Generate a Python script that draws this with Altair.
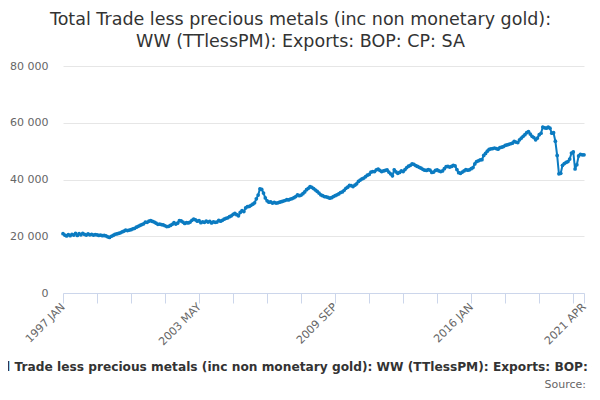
import altair as alt
import pandas as pd

TITLE_LINES = [
    "Total Trade less precious metals (inc non monetary gold):",
    "WW (TTlessPM): Exports: BOP: CP: SA",
]
SERIES_NAME = "Total Trade less precious metals (inc non monetary gold): WW (TTlessPM): Exports: BOP: CP: SA"
SOURCE_TEXT = "Source:"

START_YEAR = 1997
MONTH_NAMES = ["JAN", "FEB", "MAR", "APR", "MAY", "JUN",
               "JUL", "AUG", "SEP", "OCT", "NOV", "DEC"]

# Monthly values (£ million)
v1997 = [20900, 20400, 20100, 20600, 20200, 20700, 20400, 21000, 20300, 20900, 20500, 21000]
v1998 = [20700, 20400, 20800, 20500, 20700, 20400, 20600, 20500, 20300, 20400, 20200, 20300]
v1999 = [20100, 19800, 19600, 20000, 20300, 20700, 20800, 21000, 21200, 21500, 21800, 22200]
v2000 = [22000, 22200, 22300, 22600, 22800, 23200, 23500, 23800, 24100, 24400, 25000, 24900]
v2001 = [25300, 25500, 25200, 25000, 24600, 24200, 24300, 24100, 24000, 23700, 23400, 23500]
v2002 = [23800, 24200, 24800, 24300, 24600, 25500, 25400, 25000, 24500, 24800, 24700, 25000]
v2003 = [25600, 26000, 25800, 25300, 25500, 24800, 25100, 24900, 25300, 25000, 25200, 24700]
v2004 = [25100, 24900, 25000, 25600, 25300, 25600, 26000, 26300, 26500, 26900, 27200, 27700]
v2005 = [28100, 27600, 27200, 28400, 29000, 28700, 30000, 30400, 30500, 30900, 31300, 31800]
v2006 = [33200, 34500, 36700, 36500, 35200, 33500, 32500, 32000, 32100, 31700, 31900, 31700]
v2007 = [31800, 32000, 32200, 32400, 32600, 32900, 32800, 33100, 33300, 33600, 34000, 34600]
v2008 = [34300, 34500, 35000, 35600, 36400, 36900, 37500, 37200, 36800, 36300, 35800, 35200]
v2009 = [34600, 34300, 34000, 33900, 33700, 33400, 33600, 34000, 34300, 34600, 34900, 35400]
v2010 = [35600, 36200, 36900, 37300, 37900, 37800, 37500, 38000, 38500, 39300, 39800, 40200]
v2011 = [40500, 41000, 41500, 41800, 42600, 42800, 42800, 43400, 43700, 43200, 42800, 43000]
v2012 = [43200, 43400, 42600, 42000, 41300, 43400, 42700, 42200, 42500, 43000, 42800, 43500]
v2013 = [44200, 44700, 45000, 45500, 45300, 44900, 44600, 44300, 44000, 43600, 43300, 43200]
v2014 = [43500, 43300, 42500, 42600, 43200, 43400, 43000, 42800, 43000, 43800, 44500, 44600]
v2015 = [44400, 44600, 45000, 44800, 43500, 42400, 42200, 42600, 43000, 43500, 43300, 43400]
v2016 = [43800, 44200, 45500, 46300, 46600, 46900, 47000, 48500, 49200, 50000, 50600, 50800]
v2017 = [50900, 51100, 50900, 50700, 51200, 51400, 51600, 52000, 52200, 52400, 52600, 52800]
v2018 = [53400, 53200, 53000, 54000, 54600, 55200, 55800, 56500, 56900, 56000, 55200, 54800]
v2019 = [54000, 54600, 55800, 56300, 58500, 58200, 58100, 58500, 58100, 56300, 56500, 53500]
v2020 = [48500, 42000, 42200, 45000, 45600, 46000, 46300, 47200, 49300, 49700, 43700, 45200]
v2021 = [48300, 48900, 48700, 48700]

values = (v1997 + v1998 + v1999 + v2000 + v2001 + v2002 + v2003 + v2004 + v2005
          + v2006 + v2007 + v2008 + v2009 + v2010 + v2011 + v2012 + v2013 + v2014
          + v2015 + v2016 + v2017 + v2018 + v2019 + v2020 + v2021)

TICK_INDEX = [0, 19, 38, 57, 76, 95, 114, 133, 152, 171, 190, 209, 228, 247, 266, 285, 291]
TICK_LABELS = {0: "1997 JAN", 76: "2003 MAY", 152: "2009 SEP", 228: "2016 JAN", 291: "2021 APR"}
Y_TICKS = [0, 20000, 40000, 60000, 80000]

BLUE = "#0b7bc1"
FONT = "DejaVu Sans"

df = pd.DataFrame({
    "idx": list(range(len(values))),
    "period": [f"{START_YEAR + i // 12} {MONTH_NAMES[i % 12]}" for i in range(len(values))],
    "value": values,
})

label_expr = " : ".join(
    [f"datum.value == {k} ? '{v}'" for k, v in TICK_LABELS.items()]
) + " : ''"

line = alt.Chart(df).mark_line(
    color=BLUE, strokeWidth=2,
    point=alt.OverlayMarkDef(color=BLUE, filled=True, size=14, opacity=1),
).encode(
    x=alt.X("idx:Q",
            scale=alt.Scale(domain=[0, len(values) - 1], nice=False, zero=False),
            axis=alt.Axis(values=TICK_INDEX, labelExpr=label_expr, title=None,
                          grid=False, domainColor="#ccd6eb", tickColor="#ccd6eb",
                          tickSize=10, labelAngle=-45, labelAlign="right",
                          labelBaseline="middle", labelPadding=2,
                          labelFontSize=11, labelColor="#666666", labelFont=FONT,
                          labelOverlap=False, labelBound=False, labelFlush=False)),
    y=alt.Y("value:Q",
            scale=alt.Scale(domain=[0, 80000], nice=False),
            axis=alt.Axis(values=Y_TICKS, title=None, domain=False, ticks=False,
                          gridColor="#e6e6e6", labelPadding=15,
                          labelExpr="replace(format(datum.value, ','), ',', ' ')",
                          labelFontSize=11, labelColor="#666666", labelFont=FONT)),
    tooltip=["period:N", "value:Q"],
)

legend_text = alt.Chart(pd.DataFrame({"t": [SERIES_NAME]})).mark_text(
    align="left", baseline="alphabetic", fontSize=12.2, fontWeight="bold",
    font=FONT, color="#333333",
).encode(x=alt.value(-86), y=alt.value(305), text="t:N")

source_text = alt.Chart(pd.DataFrame({"t": [SOURCE_TEXT]})).mark_text(
    align="right", baseline="alphabetic", fontSize=11, font=FONT, color="#666666",
).encode(x=alt.value(523), y=alt.value(322), text="t:N")

chart = alt.layer(line, legend_text, source_text).properties(
    width=521, height=227,
    autosize=alt.AutoSizeParams(type="none"),
    padding={"left": 55, "top": 58, "right": 8, "bottom": 99},
    title=alt.TitleParams(text=TITLE_LINES, fontSize=17.5, font=FONT,
                          fontWeight="normal", color="#333333", anchor="middle",
                          frame="group", dx=-23, offset=10, lineHeight=22),
).configure_view(stroke=None)

chart.save("out.html", embed_options={"renderer": "svg", "actions": False})
